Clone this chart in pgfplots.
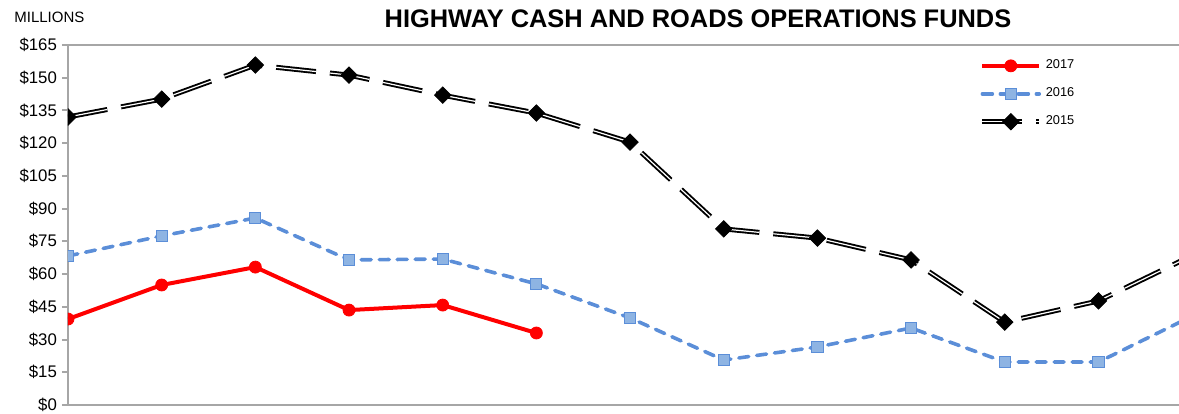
\documentclass[border=0pt]{standalone}
\usepackage{fontspec}
\setmainfont{Liberation Sans}
\usepackage{pgfplots}
\pgfplotsset{compat=1.18}
\definecolor{blueline}{HTML}{5B8ED8}
\definecolor{bluefill}{HTML}{8EB4E3}
\definecolor{axgray}{HTML}{A6A6A6}

\begin{document}
\begin{tikzpicture}
\begin{axis}[
    scale only axis,
    width=555.5pt, height=180pt,
    xmin=0, xmax=11.86, ymin=0, ymax=165,
    axis x line*=bottom, axis y line*=left,
    axis line style={axgray, line width=1.2pt, -},
    xtick=\empty,
    ytick={0,15,...,165},
    yticklabels={\$0,\$15,\$30,\$45,\$60,\$75,\$90,\$105,\$120,\$135,\$150,\$165},
    tick align=outside, major tick length=3pt,
    tick style={axgray, line width=1pt},
    yticklabel style={font=\fontsize{8.4}{9}\selectfont, xshift=1pt},
    clip marker paths=true,
    reverse legend,
    legend cell align=left,
    legend style={draw=none, fill=none, at={(0.815,0.982)}, anchor=north west,
        font=\fontsize{6.4}{7}\selectfont, row sep=4pt},
    legend image code/.code={
        \draw[mark repeat=2, mark phase=2, #1] plot coordinates {(0cm,0cm) (0.5cm,0cm) (1cm,0cm)};
    },
]
\coordinate (O) at (rel axis cs:0,0);
\coordinate (T) at (rel axis cs:0,1);
\coordinate (R) at (rel axis cs:1,1);

% 2015
\addplot[black, line width=0.95pt, double=white, double distance=0.6pt,
    dash pattern=on 20pt off 7pt, mark=square*, mark size=2.9pt,
    mark options={solid, fill=black, rotate=45, line width=0.4pt}]
    coordinates {(0,132) (1,140.2) (2,155.8) (3,151.2) (4,142) (5,133.8) (6,120.5)
                 (7,80.7) (8,76.5) (9,66.5) (10,38) (11,47.7) (12,68.5)};
% 2016
\addplot[blueline, line width=1.8pt, line cap=round, dash pattern=on 5pt off 4pt,
    mark=square*, mark size=2.8pt,
    mark options={solid, fill=bluefill, draw=blueline, line width=0.5pt}]
    coordinates {(0,68.3) (1,77.5) (2,85.7) (3,66.5) (4,66.9) (5,55.5) (6,39.9)
                 (7,20.6) (8,26.6) (9,35.3) (10,19.7) (11,19.7) (12,40.7)};
% 2017
\addplot[red, line width=2pt, mark=*, mark size=3pt, mark options={fill=red, line width=0.4pt}]
    coordinates {(0,39.4) (1,55) (2,63.2) (3,43.5) (4,45.8) (5,33)};
\legend{2015, 2016, 2017}
\end{axis}

\draw[axgray, line width=0.8pt] (T) -- (R);
\node[font=\bfseries\fontsize{12.7}{15}\selectfont] at ([shift={(315pt,13pt)}]T)
    {HIGHWAY CASH AND ROADS OPERATIONS FUNDS};
\node[anchor=west, font=\fontsize{7.5}{9}\selectfont, inner sep=0pt] at ([shift={(-27pt,14pt)}]T) {MILLIONS};

\pgfresetboundingbox
\path ([shift={(-34pt,-4pt)}]O) rectangle ([shift={(555.5pt,202.5pt)}]O);
\end{tikzpicture}
\end{document}
